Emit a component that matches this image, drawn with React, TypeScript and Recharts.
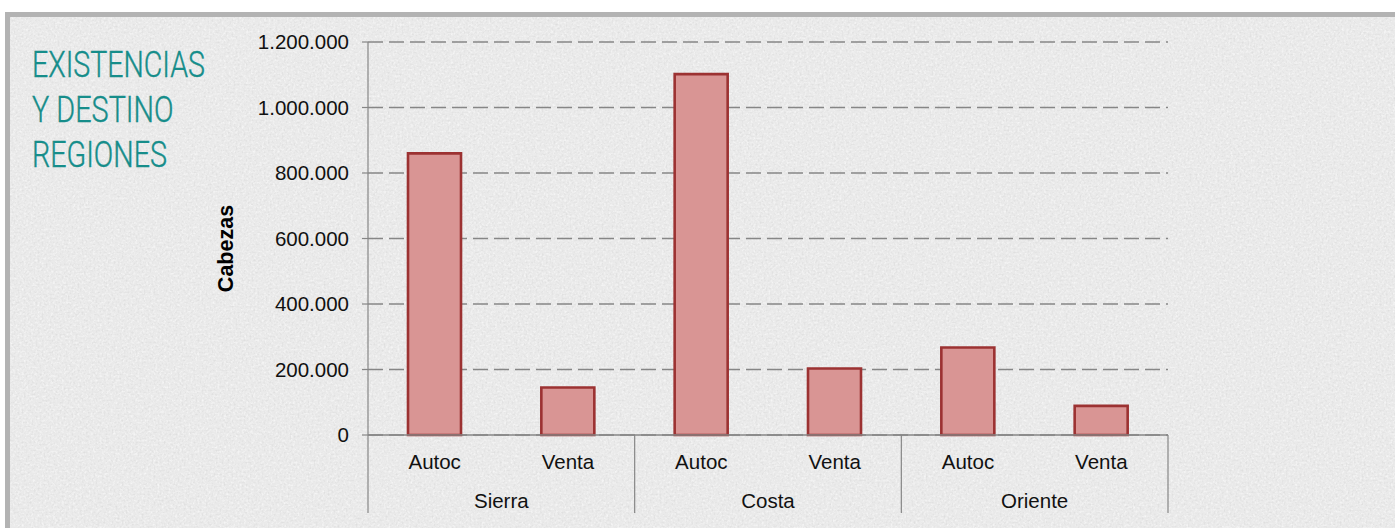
import React from "react";
import { BarChart, Bar, XAxis, YAxis, CartesianGrid } from "recharts";

const regions = ["Sierra", "Costa", "Oriente"];
const destinos = ["Autoc", "Venta"];
const autocValues = [860000, 1102000, 267000];
const ventaValues = [145000, 203000, 89000];
const yTicks = [0, 200000, 400000, 600000, 800000, 1000000, 1200000];
const titleLines = ["EXISTENCIAS", "Y DESTINO", "REGIONES"];
const titleWidths = [173, 141.5, 135];

const data = regions.flatMap((r, i) => [
  { region: r, destino: destinos[0], value: autocValues[i] },
  { region: r, destino: destinos[1], value: ventaValues[i] },
]);

const FONT = "'Liberation Sans', Arial, Helvetica, sans-serif";
const AXIS = "#868686";

const fmt = (v: number) => String(v).replace(/\B(?=(\d{3})+(?!\d))/g, ".");

const XTick = (props: any) => {
  const { x, y, payload, index, width, visibleTicksCount } = props;
  const half =
    payload && typeof payload.offset === "number" && payload.offset > 0
      ? payload.offset
      : width / (visibleTicksCount || data.length) / 2;
  const row = data[index];
  return (
    <g>
      <text x={x} y={y + 34} textAnchor="middle" fontSize={20.5} fill="#111" fontFamily={FONT}>
        {payload.value}
      </text>
      {index % 2 === 0 && (
        <>
          <line x1={x - half} y1={y} x2={x - half} y2={y + 78} stroke={AXIS} strokeWidth={1.2} />
          <text x={x + half} y={y + 73} textAnchor="middle" fontSize={20.5} fill="#111" fontFamily={FONT}>
            {row ? row.region : ""}
          </text>
        </>
      )}
      {index === data.length - 1 && (
        <line x1={x + half} y1={y} x2={x + half} y2={y + 78} stroke={AXIS} strokeWidth={1.2} />
      )}
    </g>
  );
};

const YLabel = (props: any) => {
  const vb = props.viewBox || { x: 258, y: 42, width: 110, height: 393 };
  const cx = vb.x - 25;
  const cy = vb.y + vb.height / 2 + 10;
  return (
    <text
      x={cx}
      y={cy}
      transform={`rotate(-90 ${cx} ${cy})`}
      textAnchor="middle"
      fontSize={21.5}
      fontWeight="bold"
      fill="#000"
      fontFamily={FONT}
    >
      Cabezas
    </text>
  );
};

export default function App() {
  return (
    <div
      style={{
        position: "absolute",
        left: 0,
        top: 0,
        width: 1395,
        height: 528,
        overflow: "hidden",
        background: "#ffffff",
      }}
    >
      <div
        style={{
          position: "absolute",
          left: 5,
          top: 12,
          width: 1500,
          height: 600,
          boxSizing: "border-box",
          border: "5px solid #b3b3b3",
          background: "#eaeaea",
        }}
      />
      <svg
        width={1395}
        height={528}
        style={{ position: "absolute", left: 0, top: 0 }}
      >
        <defs>
          <filter id="noise" x="0" y="0" width="100%" height="100%">
            <feTurbulence type="fractalNoise" baseFrequency="0.5" numOctaves={3} seed={7} />
            <feColorMatrix
              type="matrix"
              values="0 0 0 0 0.6  0 0 0 0 0.6  0 0 0 0 0.6  0 0 0 -2.2 1.15"
            />
          </filter>
          <filter id="noise2" x="0" y="0" width="100%" height="100%">
            <feTurbulence type="fractalNoise" baseFrequency="0.45" numOctaves={2} seed={19} />
            <feColorMatrix
              type="matrix"
              values="0 0 0 0 1  0 0 0 0 1  0 0 0 0 1  0 0 0 2.4 -1.15"
            />
          </filter>
        </defs>
        <rect x={10} y={17} width={1385} height={511} filter="url(#noise)" opacity={0.45} />
        <rect x={10} y={17} width={1385} height={511} filter="url(#noise2)" opacity={0.6} />
        {titleLines.map((t, i) => (
          <text
            key={t}
            x={32}
            y={77 + i * 45}
            fontSize={36}
            fontWeight={300}
            fill="#168d8a"
            stroke="#168d8a"
            strokeWidth={0.4}
            fontFamily="Roboto, 'Liberation Sans Narrow', 'Liberation Sans', sans-serif"
            textLength={titleWidths[i]}
            lengthAdjust="spacingAndGlyphs"
          >
            {t}
          </text>
        ))}
      </svg>
      <div style={{ position: "absolute", left: 0, top: 0 }}>
        <BarChart
          width={1395}
          height={528}
          data={data}
          margin={{ top: 42, right: 227, bottom: 13, left: 258 }}
          barCategoryGap="30%"
        >
          <CartesianGrid
            horizontal={true}
            vertical={false}
            stroke={AXIS}
            strokeWidth={1.3}
            strokeDasharray="15 6"
          />
          <XAxis
            dataKey="destino"
            height={80}
            tickLine={false}
            tickSize={0}
            tickMargin={0}
            interval={0}
            axisLine={{ stroke: AXIS, strokeWidth: 1.4 }}
            tick={<XTick />}
          />
          <YAxis
            width={110}
            domain={[0, 1200000]}
            ticks={yTicks}
            interval={0}
            tickFormatter={fmt}
            tickSize={6}
            tickMargin={13}
            tickLine={{ stroke: AXIS, strokeWidth: 1.2 }}
            axisLine={{ stroke: AXIS, strokeWidth: 1.2 }}
            tick={{ fill: "#111", fontSize: 20.5, fontFamily: FONT }}
            label={<YLabel />}
          />
          <Bar
            dataKey="value"
            fill="#d99594"
            stroke="#9c3232"
            strokeWidth={2.6}
            isAnimationActive={false}
          />
        </BarChart>
      </div>
    </div>
  );
}
